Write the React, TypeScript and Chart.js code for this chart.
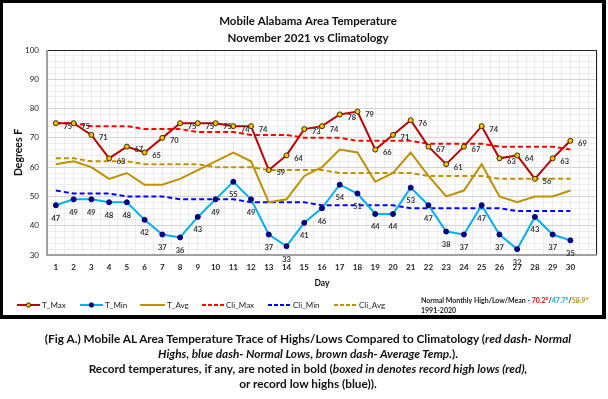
import React, { useEffect, useRef } from "react";
import { Chart, registerables } from "chart.js";

Chart.register(...registerables);

const days = [1,2,3,4,5,6,7,8,9,10,11,12,13,14,15,16,17,18,19,20,21,22,23,24,25,26,27,28,29,30];
const tMax = [75,75,71,63,67,65,70,75,75,75,74,74,59,64,73,74,78,79,66,71,76,67,61,67,74,63,64,56,63,69];
const tMin = [47,49,49,48,48,42,37,36,43,49,55,49,37,33,41,46,54,51,44,44,53,47,38,37,47,37,32,43,37,35];
const tAvg = [61,62,60,56,58,54,54,56,59,62,65,62,48,49,57,60,66,65,55,58,65,57,50,52,61,50,48,50,50,52];
const cliMax = [75,75,74,74,74,73,73,73,72,72,72,71,71,71,70,70,70,69,69,69,69,68,68,68,68,67,67,67,67,66];
const cliMin = [52,51,51,51,50,50,50,49,49,49,49,48,48,48,48,47,47,47,47,47,46,46,46,46,46,46,45,45,45,45];
const cliAvg = [63,63,62,62,62,61,61,61,61,60,60,60,59,59,59,59,58,58,58,58,58,57,57,57,57,56,56,56,56,56];
const seriesNames = ["T_Max", "T_Min", "T_Avg", "Cli_Max", "Cli_Min", "Cli_Avg"];
const titleLines = ["Mobile Alabama Area Temperature", "November 2021 vs Climatology"];
const normalsText = ["70.2°", "47.7°", "58.9°"];

const FONT = "Lato, 'Liberation Sans', sans-serif";

const C_MAX = "#c00000";
const C_MIN = "#00b0f0";
const C_AVG = "#bf9000";
const C_CMAX = "#ff0000";
const C_CMIN = "#0000ff";
const C_CAVG = "#bf9000";

const pts = (arr: number[]) => arr.map((v, i) => ({ x: days[i], y: v }));

const decorPlugin = {
  id: "decor",
  beforeDatasetsDraw(chart: any) {
    const { ctx, chartArea: a } = chart;
    ctx.save();
    ctx.strokeStyle = "#222";
    ctx.lineWidth = 1;
    ctx.strokeRect(a.left + 0.5, a.top + 0.5, a.right - a.left - 1, a.bottom - a.top);
    ctx.strokeStyle = "#a0a0a0";
    ctx.lineWidth = 2;
    ctx.beginPath();
    ctx.moveTo(a.left, a.top);
    ctx.lineTo(a.left, a.bottom);
    ctx.lineTo(a.right, a.bottom);
    ctx.stroke();
    ctx.restore();
  },
  afterDatasetsDraw(chart: any) {
    const ctx = chart.ctx;
    ctx.save();
    ctx.font = `bold 7.5px ${FONT}`;
    ctx.fillStyle = "#333";
    ctx.textAlign = "center";
    ctx.textBaseline = "middle";
    chart.getDatasetMeta(0).data.forEach((p: any, i: number) => {
      ctx.fillText(String(tMax[i]), p.x + 12, p.y + 3);
    });
    chart.getDatasetMeta(1).data.forEach((p: any, i: number) => {
      ctx.fillText(String(tMin[i]), p.x, p.y + 13);
    });
    ctx.restore();
  },
  afterDraw(chart: any) {
    const { ctx, chartArea: a } = chart;
    ctx.save();
    ctx.fillStyle = "#111";
    ctx.textAlign = "center";
    ctx.textBaseline = "middle";
    ctx.font = `bold 11.5px ${FONT}`;
    ctx.fillText(titleLines[0], 308, 21);
    ctx.fillText(titleLines[1], 308, 38);
    // axis titles
    ctx.font = `bold 8.5px ${FONT}`;
    ctx.fillText("Day", 322, 283);
    ctx.save();
    ctx.translate(19, (a.top + a.bottom) / 2);
    ctx.rotate(-Math.PI / 2);
    ctx.font = `bold 10.5px ${FONT}`;
    ctx.fillText("Degrees F", 0, 0);
    ctx.restore();

    // legend
    const ly = 305;
    const items = [
      { c: C_MAX, x0: 17, x1: 40, dash: false, m: "max" },
      { c: C_MIN, x0: 80, x1: 103, dash: false, m: "min" },
      { c: C_AVG, x0: 140, x1: 165, dash: false, m: "" },
      { c: C_CMAX, x0: 202, x1: 224, dash: true, m: "" },
      { c: C_CMIN, x0: 268, x1: 291, dash: true, m: "" },
      { c: C_CAVG, x0: 334, x1: 357, dash: true, m: "" },
    ];
    items.forEach((it, i) => {
      ctx.save();
      ctx.strokeStyle = it.c;
      ctx.lineWidth = 2;
      ctx.setLineDash(it.dash ? [4, 2] : []);
      ctx.beginPath();
      ctx.moveTo(it.x0, ly);
      ctx.lineTo(it.x1, ly);
      ctx.stroke();
      ctx.setLineDash([]);
      if (it.m) {
        ctx.beginPath();
        ctx.arc((it.x0 + it.x1) / 2, ly, 2.2, 0, Math.PI * 2);
        ctx.fillStyle = it.m === "max" ? "#ffc000" : "#000080";
        ctx.fill();
        ctx.lineWidth = 1;
        ctx.strokeStyle = it.m === "max" ? "#3a2a00" : "#000080";
        ctx.stroke();
      }
      ctx.restore();
      ctx.font = `8px ${FONT}`;
      ctx.fillStyle = "#222";
      ctx.textAlign = "left";
      ctx.fillText(seriesNames[i], it.x1 + 2, ly);
    });
    ctx.textAlign = "left";
    ctx.font = `bold 7px ${FONT}`;
    let x = 421;
    const y1 = 301;
    const seg = (t: string, col: string) => {
      ctx.fillStyle = col;
      ctx.fillText(t, x, y1);
      x += ctx.measureText(t).width;
    };
    seg("Normal Monthly High/Low/Mean - ", "#222");
    seg(normalsText[0], "#ff0000");
    seg("/", "#222");
    seg(normalsText[1], C_MIN);
    seg("/", "#222");
    seg(normalsText[2], C_AVG);
    ctx.fillStyle = "#222";
    ctx.fillText("1991-2020", 421, 311);
    ctx.restore();
  },
};

export default function App() {
  const ref = useRef<HTMLCanvasElement | null>(null);
  useEffect(() => {
    if (!ref.current) return;
    const chart = new Chart(ref.current, {
      type: "line",
      data: {
        datasets: [
          { label: seriesNames[0], data: pts(tMax), borderColor: C_MAX, borderWidth: 2, pointRadius: 2.5, pointBackgroundColor: "#ffc000", pointBorderColor: "#3a2a00", pointBorderWidth: 1, tension: 0 },
          { label: seriesNames[1], data: pts(tMin), borderColor: C_MIN, borderWidth: 2, pointRadius: 2.5, pointBackgroundColor: "#000080", pointBorderColor: "#000080", pointBorderWidth: 1, tension: 0 },
          { label: seriesNames[2], data: pts(tAvg), borderColor: C_AVG, borderWidth: 2, pointRadius: 0, tension: 0 },
          { label: seriesNames[3], data: pts(cliMax), borderColor: C_CMAX, borderWidth: 2, borderDash: [5, 3], pointRadius: 0, tension: 0 },
          { label: seriesNames[4], data: pts(cliMin), borderColor: C_CMIN, borderWidth: 2, borderDash: [5, 3], pointRadius: 0, tension: 0 },
          { label: seriesNames[5], data: pts(cliAvg), borderColor: C_CAVG, borderWidth: 2, borderDash: [5, 3], pointRadius: 0, tension: 0 },
        ],
      },
      options: {
        animation: false,
        responsive: false,
        devicePixelRatio: 1,
        layout: { padding: { top: 50, left: 0, right: 9, bottom: 44 } },
        plugins: { legend: { display: false }, title: { display: false }, tooltip: { enabled: false } },
        scales: {
          x: {
            type: "linear",
            min: 0.5,
            max: 31.5,
            afterFit: (s: any) => { s.height = 20; },
            border: { display: false },
            grid: { color: "#ebebeb", drawTicks: false, lineWidth: 1 },
            ticks: {
              stepSize: 0.5,
              autoSkip: false,
              maxRotation: 0,
              padding: 8,
              color: "#222",
              font: { family: FONT, size: 8, weight: "bold" },
              callback: (v: any) => {
                const n = Number(v);
                return Number.isInteger(n) && days.includes(n) ? String(n) : "";
              },
            },
          },
          y: {
            min: 30,
            max: 100,
            afterFit: (s: any) => { s.width = 47; },
            border: { display: false },
            grid: {
              drawTicks: false,
              color: (c: any) => (c.tick && c.tick.value % 10 === 0 ? "#d4d4d4" : "#eeeeee"),
            },
            ticks: {
              stepSize: 2,
              autoSkip: false,
              padding: 8,
              color: "#222",
              font: { family: FONT, size: 8 },
              callback: (v: any) => (Number(v) % 10 === 0 ? String(v) : ""),
            },
          },
        },
      },
      plugins: [decorPlugin],
    } as any);
    return () => chart.destroy();
  }, []);

  return (
    <div style={{ position: "absolute", left: 0, top: 0, width: 608, height: 399, overflow: "hidden", background: "#fff" }}>
      <canvas ref={ref} width={606} height={319} style={{ position: "absolute", left: 0, top: 0, width: 606, height: 319 }} />
      <div style={{ position: "absolute", left: 0, top: 0, width: 606, height: 319, boxSizing: "border-box", borderStyle: "solid", borderColor: "#000", borderWidth: "3px 4px 4px 3px", pointerEvents: "none" }} />
      <div style={{ position: "absolute", left: 4, top: 331, width: 608, textAlign: "center", fontFamily: FONT, fontWeight: "bold", fontSize: 11.8, lineHeight: "15px", color: "#111", whiteSpace: "nowrap" }}>
        (Fig A.) Mobile AL Area Temperature Trace of Highs/Lows Compared to Climatology (<i>red dash- Normal</i>
        <br />
        <i>Highs, blue dash- Normal Lows, brown dash- Average Temp.</i>).
        <br />
        Record temperatures, if any, are noted in bold (<i>boxed in denotes record high lows (red),</i>
        <br />
        or record low highs (blue)).
      </div>
    </div>
  );
}
